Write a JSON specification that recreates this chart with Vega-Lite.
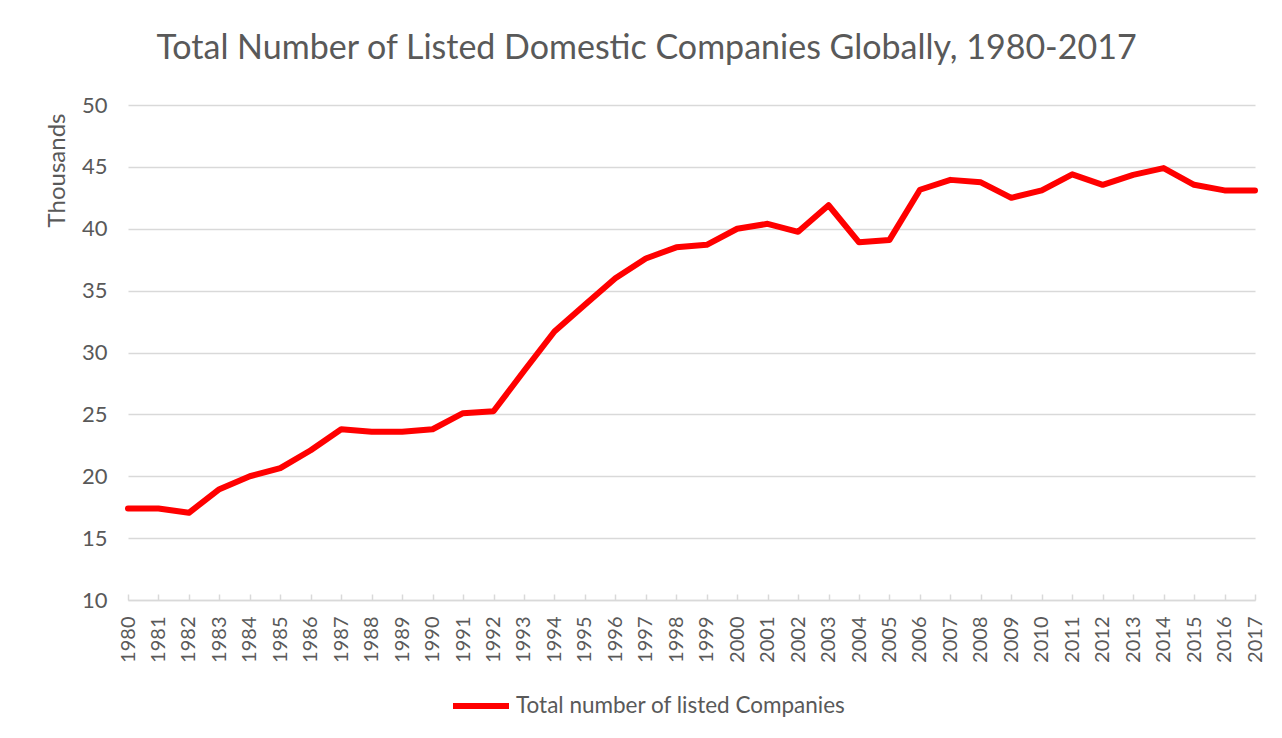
{
  "$schema": "https://vega.github.io/schema/vega-lite/v6.json",
  "autosize": {"type": "none"},
  "width": 1127,
  "height": 495,
  "padding": {"left": 128, "top": 105, "right": 27, "bottom": 138},
  "background": "white",
  "title": {
    "text": "Total Number of Listed Domestic Companies Globally, 1980-2017",
    "anchor": "middle",
    "dx": -45,
    "offset": 28,
    "font": "Lato",
    "fontSize": 34,
    "fontWeight": "normal",
    "color": "#595959"
  },
  "data": {
    "values": [
      {"Year": "1980", "Value": 17.4, "Series": "Total number of listed Companies"},
      {"Year": "1981", "Value": 17.4, "Series": "Total number of listed Companies"},
      {"Year": "1982", "Value": 17.05, "Series": "Total number of listed Companies"},
      {"Year": "1983", "Value": 18.95, "Series": "Total number of listed Companies"},
      {"Year": "1984", "Value": 20.0, "Series": "Total number of listed Companies"},
      {"Year": "1985", "Value": 20.65, "Series": "Total number of listed Companies"},
      {"Year": "1986", "Value": 22.1, "Series": "Total number of listed Companies"},
      {"Year": "1987", "Value": 23.8, "Series": "Total number of listed Companies"},
      {"Year": "1988", "Value": 23.6, "Series": "Total number of listed Companies"},
      {"Year": "1989", "Value": 23.6, "Series": "Total number of listed Companies"},
      {"Year": "1990", "Value": 23.8, "Series": "Total number of listed Companies"},
      {"Year": "1991", "Value": 25.1, "Series": "Total number of listed Companies"},
      {"Year": "1992", "Value": 25.25, "Series": "Total number of listed Companies"},
      {"Year": "1993", "Value": 28.5, "Series": "Total number of listed Companies"},
      {"Year": "1994", "Value": 31.7, "Series": "Total number of listed Companies"},
      {"Year": "1995", "Value": 33.85, "Series": "Total number of listed Companies"},
      {"Year": "1996", "Value": 36.0, "Series": "Total number of listed Companies"},
      {"Year": "1997", "Value": 37.6, "Series": "Total number of listed Companies"},
      {"Year": "1998", "Value": 38.5, "Series": "Total number of listed Companies"},
      {"Year": "1999", "Value": 38.7, "Series": "Total number of listed Companies"},
      {"Year": "2000", "Value": 40.0, "Series": "Total number of listed Companies"},
      {"Year": "2001", "Value": 40.4, "Series": "Total number of listed Companies"},
      {"Year": "2002", "Value": 39.75, "Series": "Total number of listed Companies"},
      {"Year": "2003", "Value": 41.9, "Series": "Total number of listed Companies"},
      {"Year": "2004", "Value": 38.9, "Series": "Total number of listed Companies"},
      {"Year": "2005", "Value": 39.1, "Series": "Total number of listed Companies"},
      {"Year": "2006", "Value": 43.15, "Series": "Total number of listed Companies"},
      {"Year": "2007", "Value": 43.95, "Series": "Total number of listed Companies"},
      {"Year": "2008", "Value": 43.75, "Series": "Total number of listed Companies"},
      {"Year": "2009", "Value": 42.5, "Series": "Total number of listed Companies"},
      {"Year": "2010", "Value": 43.1, "Series": "Total number of listed Companies"},
      {"Year": "2011", "Value": 44.4, "Series": "Total number of listed Companies"},
      {"Year": "2012", "Value": 43.55, "Series": "Total number of listed Companies"},
      {"Year": "2013", "Value": 44.35, "Series": "Total number of listed Companies"},
      {"Year": "2014", "Value": 44.9, "Series": "Total number of listed Companies"},
      {"Year": "2015", "Value": 43.55, "Series": "Total number of listed Companies"},
      {"Year": "2016", "Value": 43.1, "Series": "Total number of listed Companies"},
      {"Year": "2017", "Value": 43.1, "Series": "Total number of listed Companies"}
    ]
  },
  "mark": {"type": "line", "strokeWidth": 6, "strokeCap": "round", "strokeJoin": "round"},
  "encoding": {
    "x": {
      "field": "Year",
      "type": "ordinal",
      "scale": {"type": "point", "padding": 0},
      "axis": {
        "title": null,
        "labelAngle": -90,
        "labelFont": "Lato",
        "labelFontSize": 20,
        "labelColor": "#595959",
        "labelPadding": 22,
        "domainColor": "#d9d9d9",
        "domainWidth": 1.5,
        "tickColor": "#d9d9d9",
        "tickWidth": 1.5,
        "tickSize": -6,
        "grid": false
      }
    },
    "y": {
      "field": "Value",
      "type": "quantitative",
      "scale": {"domain": [10, 50], "nice": false, "zero": false},
      "axis": {
        "title": "Thousands",
        "titleAnchor": "end",
        "titleY": 8,
        "titleFont": "Lato",
        "titleFontSize": 24,
        "titleFontWeight": "normal",
        "titleColor": "#595959",
        "titlePadding": 12,
        "values": [10, 15, 20, 25, 30, 35, 40, 45, 50],
        "labelFont": "Lato",
        "labelFontSize": 22,
        "labelColor": "#595959",
        "labelPadding": 21,
        "domain": false,
        "ticks": false,
        "grid": true,
        "gridColor": "#d9d9d9",
        "gridWidth": 1.5
      }
    },
    "color": {
      "field": "Series",
      "type": "nominal",
      "scale": {"range": ["#ff0000"]},
      "legend": {
        "title": null,
        "orient": "none",
        "legendX": 322,
        "legendY": 570,
        "symbolType": "stroke",
        "symbolSize": 3136,
        "symbolStrokeWidth": 6,
        "labelFont": "Lato",
        "labelFontSize": 22.5,
        "labelColor": "#595959",
        "labelOffset": 4,
        "labelLimit": 0
      }
    }
  },
  "config": {
    "view": {"stroke": null},
    "line": {"color": "#ff0000"}
  }
}
